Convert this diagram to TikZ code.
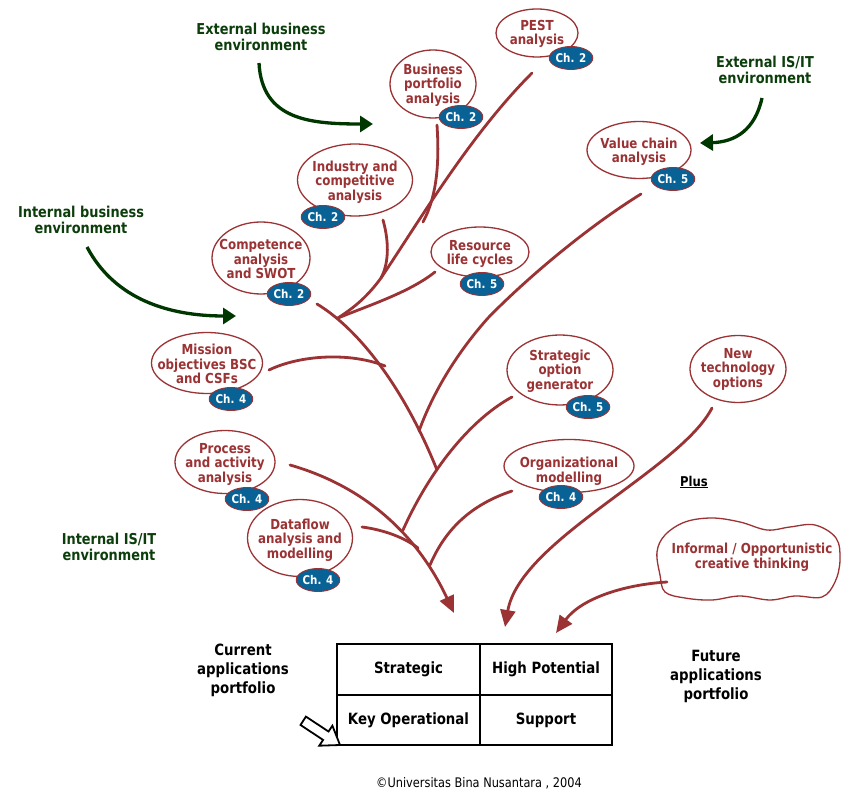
\documentclass[tikz,border=0pt]{standalone}
\usepackage{fontspec}
\setmainfont{DejaVu Sans}[FakeStretch=0.86]
\usetikzlibrary{shapes.geometric,arrows.meta}
\definecolor{brn}{RGB}{155,50,52}
\definecolor{chblue}{RGB}{8,98,150}
\definecolor{grn}{RGB}{12,62,12}
\definecolor{grnar}{RGB}{0,55,0}
\begin{document}
\begin{tikzpicture}[x=1pt,y=-1pt,
  bub/.style={ellipse, draw=brn, line width=1.3pt, fill=white, inner sep=0pt},
  btxt/.style={text=brn, align=center, inner sep=0pt, font=\fontsize{13.8}{14.5}\selectfont\bfseries},
  badge/.style={ellipse, draw=brn, line width=0.9pt, fill=chblue, text=white, inner sep=0pt,
    minimum width=42pt, minimum height=23pt, font=\fontsize{12}{12}\selectfont\bfseries},
  branch/.style={draw=brn, line width=2.8pt, line cap=round},
  redtip/.style={-{Triangle[length=17pt,width=15pt]}},
  gtxt/.style={text=grn, align=center, inner sep=0pt, font=\fontsize{15}{16.5}\selectfont\bfseries},
  ktxt/.style={text=black, align=center, inner sep=0pt, font=\fontsize{15.5}{19}\selectfont\bfseries},
  garrow/.style={draw=grnar, line width=3.3pt, -{Triangle[length=13pt,width=16pt]}},
  cell/.style={draw=black, line width=2pt, minimum height=50.5pt, inner sep=0pt,
    font=\fontsize{15.5}{17}\selectfont\bfseries},
  lcell/.style={cell, minimum width=143pt},
  rcell/.style={cell, minimum width=132pt}
]
\useasboundingbox (0,0) rectangle (841,791);
\fill[white] (0,0) rectangle (841,791);

% ---------- ellipses ----------
\node[bub, minimum width=82pt,  minimum height=48pt] (pest) at (537,33) {};
\node[bub, minimum width=86pt,  minimum height=68pt] (bpa)  at (433,84) {};
\node[bub, minimum width=115pt, minimum height=72pt] (ind)  at (355,180) {};
\node[bub, minimum width=98pt,  minimum height=72pt] (comp) at (261,258) {};
\node[bub, minimum width=98pt,  minimum height=50pt] (res)  at (480,252) {};
\node[bub, minimum width=104pt, minimum height=57pt] (val)  at (639,150) {};
\node[bub, minimum width=111pt, minimum height=61pt] (mis)  at (207,363) {};
\node[bub, minimum width=106pt, minimum height=70pt] (sog)  at (560,370) {};
\node[bub, minimum width=100pt, minimum height=63pt] (proc) at (225,462) {};
\node[bub, minimum width=130pt, minimum height=53pt] (org)  at (569,466) {};
\node[bub, minimum width=105pt, minimum height=77pt] (dfa)  at (300,538) {};
\node[bub, minimum width=96pt,  minimum height=67pt] (newt) at (738,369) {};

\node[btxt] (pestT) at ([yshift=-1pt]pest) {PEST\\analysis};
\node[btxt] (bpaT)  at ([yshift=-1pt]bpa)  {Business\\portfolio\\analysis};
\node[btxt] (indT)  at ([yshift=-2pt]ind)  {Industry and\\competitive\\analysis};
\node[btxt] (compT) at ([yshift=-1pt]comp) {Competence\\analysis\\and SWOT};
\node[btxt] (resT)  at ([yshift=-2pt]res)  {Resource\\life cycles};
\node[btxt] (valT)  at ([yshift=-2pt]val)  {Value chain\\analysis};
\node[btxt] (misT)  at ([yshift=-1pt]mis)  {Mission\\objectives BSC\\and CSFs};
\node[btxt] (sogT)  at ([yshift=-1pt]sog)  {Strategic\\option\\generator};
\node[btxt] (procT) at ([yshift=-2pt]proc) {Process\\and activity\\analysis};
\node[btxt] (orgT)  at ([yshift=-5pt]org)  {Organizational\\modelling};
\node[btxt] (dfaT)  at ([yshift=-2pt]dfa)  {Dataflow\\analysis and\\modelling};
\node[btxt] (newtT) at (newt) {New\\technology\\options};

% ---------- badges ----------
\node[badge] (pestB) at (571,58)  {Ch. 2};
\node[badge] (bpaB)  at (461,117) {Ch. 2};
\node[badge] (indB)  at (323,217) {Ch. 2};
\node[badge] (compB) at (289,294) {Ch. 2};
\node[badge] (resB)  at (482,284) {Ch. 5};
\node[badge] (valB)  at (673,179) {Ch. 5};
\node[badge] (misB)  at (231,399) {Ch. 4};
\node[badge] (sogB)  at (588,407) {Ch. 5};
\node[badge] (procB) at (247,499) {Ch. 4};
\node[badge] (orgB)  at (561,497) {Ch. 4};
\node[badge] (dfaB)  at (318,580) {Ch. 4};

% ---------- cloud ----------
\draw[brn, line width=1.3pt, fill=white] plot[smooth cycle, tension=0.6] coordinates {
 (657,552) (665,535) (685,522) (712,518) (740,522) (767,530) (790,527) (815,525)
 (836,538) (840,560) (835,582) (822,597) (795,596) (770,600) (740,596) (712,600)
 (685,598) (665,592) (660,575)};
\node[btxt] (cloud) at (752,557) {Informal / Opportunistic\\creative thinking};

% ---------- branch coordinates ----------
\coordinate (pestS) at (532,73);
\coordinate (bpaS)  at (437,125);
\coordinate (indS)  at (383,220);
\coordinate (resS)  at (435,272);
\coordinate (valS)  at (641,194);
\coordinate (misS)  at (269,370);
\coordinate (sogS)  at (512,397);
\coordinate (procS) at (290,465);
\coordinate (orgS)  at (512,491);
\coordinate (dfaS)  at (362,527);
\coordinate (newtS) at (712,408);
\coordinate (cloudS) at (667,582);
\coordinate (trunkS) at (317,304);
\coordinate (fork)  at (338,318);
\coordinate (jPest) at (381,278);
\coordinate (jBpa)  at (423,222);
\coordinate (jMis)  at (385,366);
\coordinate (jVal)  at (419,431);
\coordinate (jSog)  at (437,470);
\coordinate (jB)    at (403,530);
\coordinate (jDfa)  at (418,548);
\coordinate (jOrg)  at (430,565);
\coordinate (tipC)  at (454,613);
\coordinate (tipN)  at (505,627);
\coordinate (tipI)  at (556,633);

% ---------- branches ----------
\draw[branch] (pestS) .. controls (470,135) and (420,220) .. (jPest)
              .. controls (365,300) and (350,310) .. (fork);
\draw[branch] (bpaS) .. controls (440,170) and (435,200) .. (jBpa);
\draw[branch] (indS) .. controls (390,245) and (388,265) .. (jPest);
\draw[branch] (resS) .. controls (410,292) and (370,305) .. (fork);
\draw[branch] (trunkS) .. controls (360,330) and (405,390) .. (jSog);
\draw[branch] (misS) .. controls (300,355) and (350,352) .. (jMis);
\draw[branch] (valS) .. controls (580,232) and (520,285) .. (488,318)
              .. controls (455,355) and (432,395) .. (jVal);
\draw[branch] (sogS) .. controls (470,420) and (430,470) .. (jB);
\draw[branch] (dfaS) .. controls (385,530) and (405,538) .. (jDfa);
\draw[branch] (orgS) .. controls (470,505) and (445,530) .. (jOrg);
\draw[branch, redtip] (procS) .. controls (360,485) and (415,530) .. (tipC);
\draw[branch, redtip] (newtS) .. controls (680,470) and (520,540) .. (tipN);
\draw[branch, redtip] (cloudS) .. controls (620,585) and (580,600) .. (tipI);

% ---------- green labels and arrows ----------
\node[gtxt] (extb)  at (261,37)  {External business\\environment};
\node[gtxt] (extit) at (765,70)  {External IS/IT\\environment};
\node[gtxt] (intb)  at (81,220)  {Internal business\\environment};
\node[gtxt] (intit) at (109,547) {Internal IS/IT\\environment};
\coordinate (ga1s) at (259,63);  \coordinate (ga1e) at (373,124);
\coordinate (ga2s) at (87,247);  \coordinate (ga2e) at (236,316);
\coordinate (ga3s) at (762,98);  \coordinate (ga3e) at (700,143);
\draw[garrow] (ga1s) .. controls (262,120) and (310,124) .. (ga1e);
\draw[garrow] (ga2s) .. controls (115,300) and (170,316) .. (ga2e);
\draw[garrow] (ga3s) .. controls (755,130) and (735,142) .. (ga3e);

% ---------- Plus ----------
\node[inner sep=0pt, font=\fontsize{13.5}{14}\selectfont\bfseries] (plus) at (694,482) {\underline{Plus}};

% ---------- portfolio grid ----------
\node[lcell] (strat) at (408.5,669.5) {Strategic};
\node[rcell] (high)  at (546,669.5)   {High Potential};
\node[lcell] (keyop) at (408.5,720)   {Key Operational};
\node[rcell] (supp)  at (546,720)     {Support};
\node[ktxt] (cur) at (243,670) {Current\\applications\\portfolio};
\node[ktxt] (fut) at (716,676) {Future\\applications\\portfolio};

% hollow arrow
\draw[black, line width=1.8pt, fill=white, line join=miter]
  (340,745) -- (332.4,725.7) -- (328.5,731.5) -- (305.9,716.6) -- (300.5,725)
  -- (323.1,739.9) -- (319.2,745.7) -- cycle;

% ---------- copyright ----------
\node[inner sep=0pt, font=\fontsize{13.2}{14}\selectfont] (copy) at (479,783) {©Universitas Bina Nusantara , 2004};
\end{tikzpicture}
\end{document}
